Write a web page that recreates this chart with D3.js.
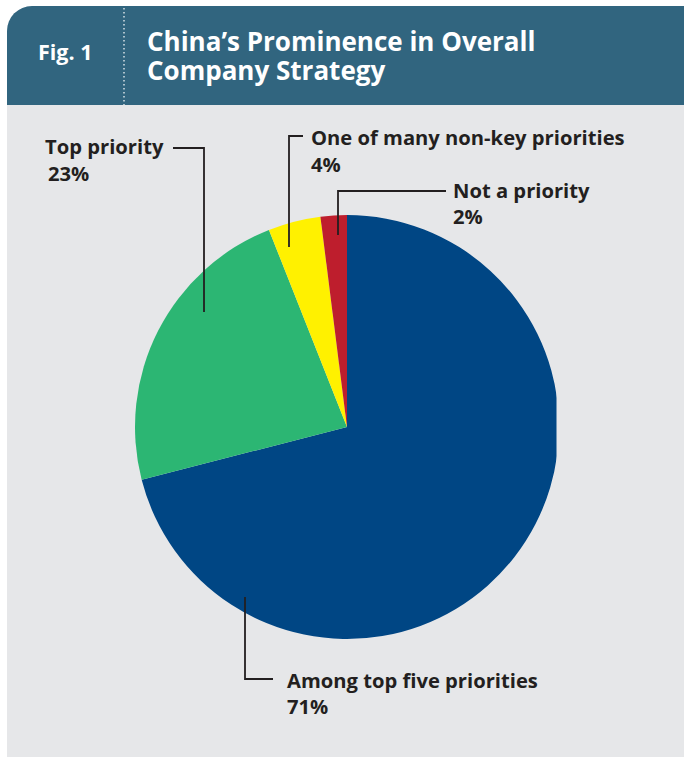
<!DOCTYPE html>
<html>
<head>
<meta charset="utf-8">
<script src="https://cdn.jsdelivr.net/npm/d3@7"></script>
<style>
  html, body { margin: 0; padding: 0; background: #ffffff; }
  svg { display: block; }
  text { font-family: "Open Sans", Lato, sans-serif; font-weight: 700; }
</style>
</head>
<body>
<div id="chart"></div>
<script>
// Survey shares: how prominent China is in overall company strategy
const categories = ["Among top five priorities", "Top priority", "One of many non-key priorities", "Not a priority"];
const values = [71, 23, 4, 2];
const valueLabels = ["71%", "23%", "4%", "2%"];
const colors = ["#004684", "#2cb673", "#fff100", "#be1e2d"];
const titleLines = ["China\u2019s Prominence in Overall", "Company Strategy"];

const W = 684, H = 757;
const svg = d3.select("#chart").append("svg").attr("width", W).attr("height", H);

// Rounded panel: dark header band above a light body
const defs = svg.append("defs");
defs.append("clipPath").attr("id", "panel")
  .append("rect").attr("x", 7).attr("y", 6).attr("width", 700).attr("height", 780).attr("rx", 25).attr("ry", 25);

const panel = svg.append("g").attr("clip-path", "url(#panel)");
panel.append("rect").attr("x", 0).attr("y", 0).attr("width", W + 30).attr("height", H + 30).attr("fill", "#e6e7e9");
panel.append("rect").attr("x", 0).attr("y", 0).attr("width", W + 30).attr("height", 105).attr("fill", "#31657f");

svg.append("line").attr("x1", 124).attr("x2", 124).attr("y1", 8).attr("y2", 105)
  .attr("stroke", "#ffffff").attr("stroke-width", 1.2).attr("stroke-dasharray", "1.5,2.5");

svg.append("text").attr("x", 38).attr("y", 60).attr("fill", "#ffffff").attr("font-size", 21.5).text("Fig. 1");
svg.selectAll("text.title").data(titleLines).join("text")
  .attr("class", "title")
  .attr("x", 147).attr("y", (d, i) => 51 + i * 29)
  .attr("fill", "#ffffff").attr("font-size", 26)
  .text(d => d);

// Pie
const cx = 347, cy = 427, R = 212;
const pie = d3.pie().sort(null).value(d => d)(values);
const arc = d3.arc().innerRadius(0).outerRadius(R);

defs.append("clipPath").attr("id", "pieclip")
  .append("rect").attr("x", -R - 2).attr("y", -R - 2).attr("width", R + 2 + 209.5).attr("height", 2 * R + 4);

const g = svg.append("g").attr("transform", `translate(${cx},${cy})`).attr("clip-path", "url(#pieclip)");
g.selectAll("path").data(pie).join("path")
  .attr("d", arc)
  .attr("fill", (d, i) => colors[i]);

// Leader lines and labels
const layout = [
  { pts: [[245, 597], [245, 679], [273, 679]], tx: 287, ty: 688, vx: 287, vy: 714 },
  { pts: [[173, 148], [204, 148], [204, 312]], tx: 45, ty: 154, vx: 48, vy: 181 },
  { pts: [[303, 136], [289, 136], [289, 247]], tx: 311, ty: 145, vx: 311, vy: 172 },
  { pts: [[446, 191], [338, 191], [338, 235]], tx: 453, ty: 198, vx: 453, vy: 224 }
];

const lbl = svg.append("g");
layout.forEach((L, i) => {
  lbl.append("path")
    .attr("d", d3.line()(L.pts))
    .attr("fill", "none").attr("stroke", "#231f20").attr("stroke-width", 1.8);
  lbl.append("text").attr("x", L.tx).attr("y", L.ty).attr("fill", "#231f20").attr("font-size", 20.2).text(categories[i]);
  lbl.append("text").attr("x", L.vx).attr("y", L.vy).attr("fill", "#231f20").attr("font-size", 20.2).text(valueLabels[i]);
});
</script>
</body>
</html>
